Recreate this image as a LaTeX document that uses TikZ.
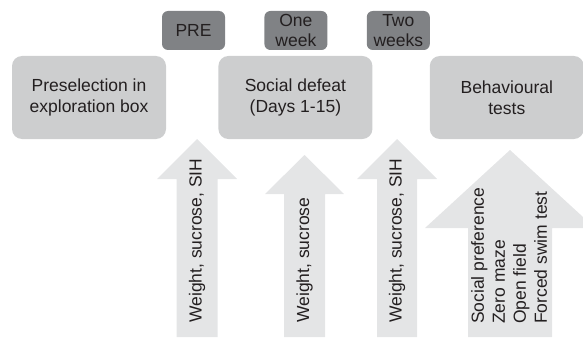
\documentclass[tikz,border=0pt]{standalone}
\usepackage{fontspec}
\setmainfont{Liberation Sans}
\usetikzlibrary{positioning}
\definecolor{boxgray}{HTML}{CDCECF}
\definecolor{taggray}{HTML}{808285}
\definecolor{arrowgray}{HTML}{E4E5E6}
\definecolor{inkgray}{HTML}{231F20}
\tikzset{
    stage-box/.style = {fill=boxgray, rectangle, rounded corners=10pt, inner sep=0pt, minimum width=154pt, minimum height=83pt, align=center, text=inkgray, font=\fontsize{17.5}{21}\selectfont},
    time-tag/.style = {fill=taggray, rectangle, rounded corners=6pt, inner sep=0pt, minimum width=63pt, minimum height=39pt, align=center, text=inkgray, font=\fontsize{17.5}{20}\selectfont},
    measure-text/.style = {rotate=90, anchor=west, inner sep=0pt, align=left, text=inkgray, font=\fontsize{17.5}{21}\selectfont},
}
% block arrow: centre x, tip y, head base y, head half width, shaft half width
\newcommand{\blockup}[5]{\fill[arrowgray] (#1,#2) -- (#1+#4,#3) -- (#1+#5,#3) -- (#1+#5,337) -- (#1-#5,337) -- (#1-#5,#3) -- (#1-#4,#3) -- cycle;}

\begin{document}
\begin{tikzpicture}[x=1pt, y=-1pt]
\useasboundingbox (0,0) rectangle (583,337);

\node[stage-box] (preselection) at (89,97.5) {Preselection in\\exploration box};
\node[stage-box, right=52pt of preselection] (defeat) {Social defeat\\(Days 1-15)};
\node[stage-box, right=57pt of defeat] (behaviour) {Behavioural\\tests};

\node[time-tag] (pre) at (193.5,30.5) {PRE};
\node[time-tag, right=39pt of pre] (oneweek) {One\\week};
\node[time-tag, right=39pt of oneweek] (twoweeks) {Two\\weeks};

\blockup{197}{139}{179}{40}{20.5}
\blockup{304.5}{155}{194}{39.5}{20.5}
\blockup{397}{139}{179}{40}{20}
\blockup{510}{150}{228}{85}{42}

\node[measure-text] (pretests) at (197,323) {Weight, sucrose, SIH};
\node[measure-text] (weektests) at (304.5,323) {Weight, sucrose};
\node[measure-text] (twoweektests) at (397,323) {Weight, sucrose, SIH};
\node[measure-text] (finaltests) at (509,324) {Social preference\\Zero maze\\Open field\\Forced swim test};
\end{tikzpicture}
\end{document}
